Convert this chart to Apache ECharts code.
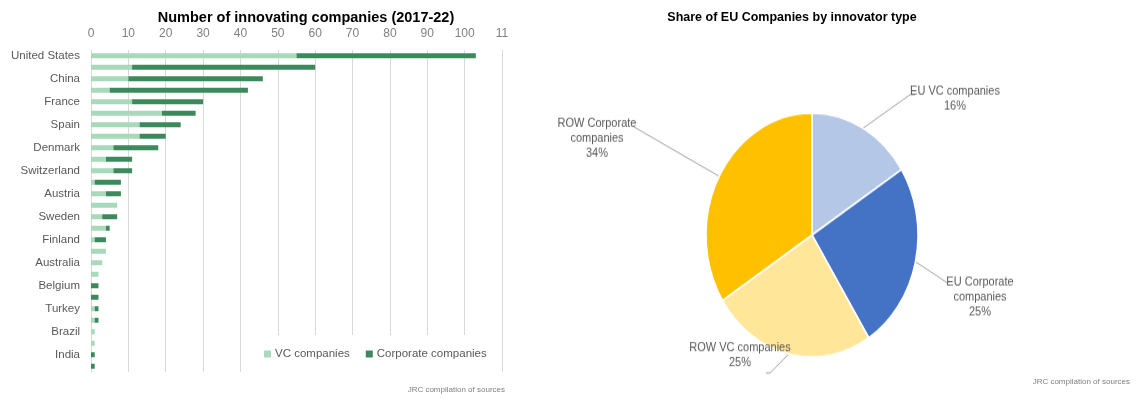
<!DOCTYPE html>
<html>
<head>
<meta charset="utf-8">
<script src="https://cdn.jsdelivr.net/npm/echarts@6/dist/echarts.min.js"></script>
<style>
  html, body { margin: 0; padding: 0; background: #fff; }
  #wrap { position: relative; width: 1137px; height: 398px; overflow: hidden; }
  #bars { position: absolute; left: 0; top: 0; width: 1137px; height: 398px; }
  /* the pie is drawn as a slightly tall ellipse */
  #pie { position: absolute; left: 540px; top: 0; width: 597px; height: 398px;
         transform-origin: 272px 235px; transform: scaleY(1.15); }
</style>
</head>
<body>
<div id="wrap">
  <div id="bars"></div>
  <div id="pie"></div>
</div>
<script>
// ---- Number of innovating companies (2017-22) ----
const countries = [
  'United States', 'United Kingdom', 'China', 'Germany', 'France', 'Israel', 'Spain',
  'Netherlands', 'Denmark', 'Italy', 'Switzerland', 'Japan', 'Austria', 'Canada',
  'Sweden', 'Norway', 'Finland', 'Ireland', 'Australia', 'Singapore', 'Belgium',
  'South Korea', 'Turkey', 'Portugal', 'Brazil', 'Poland', 'India', 'Estonia'
];
const vcCompanies = [
  55, 11, 10, 5, 11, 19, 13,
  13, 6, 4, 6, 1, 4, 7,
  3, 4, 1, 4, 3, 2, 0,
  0, 1, 1, 1, 1, 0, 0
];
const corporateCompanies = [
  48, 49, 36, 37, 19, 9, 11,
  7, 12, 7, 5, 7, 4, 0,
  4, 1, 3, 0, 0, 0, 2,
  2, 1, 1, 0, 0, 1, 1
];
const xTickLabels = ['0', '10', '20', '30', '40', '50', '60', '70', '80', '90', '100', '11'];

// ---- Share of EU Companies by innovator type ----
const innovatorTypes = ['EU VC companies', 'EU Corporate companies', 'ROW VC companies', 'ROW Corporate companies'];
const innovatorShares = [16, 25, 25, 34];
const innovatorColors = ['#b4c7e7', '#4472c4', '#ffe699', '#ffc000'];

const FONT = 'Liberation Sans';
const LIGHT_GREEN = '#a8d9bb';
const DARK_GREEN = '#3c8a5c';

const bars = echarts.init(document.getElementById('bars'), null, { renderer: 'canvas' });
bars.setOption({
  animation: false,
  textStyle: { fontFamily: FONT },
  title: [
    { text: 'Number of innovating companies (2017-22)', left: 301, top: 5, textAlign: 'center',
      textStyle: { fontSize: 14.5, fontWeight: 'bold', color: '#000', fontFamily: FONT } },
    { text: 'Share of EU Companies by innovator type', left: 787, top: 6, textAlign: 'center',
      textStyle: { fontSize: 12.5, fontWeight: 'bold', color: '#000', fontFamily: FONT } }
  ],
  grid: { left: 91, top: 50, width: 411, height: 322, containLabel: false },
  legend: {
    left: 254, top: 335,
    padding: [13, 10, 12, 10],
    backgroundColor: '#fff',
    icon: 'rect', itemWidth: 7, itemHeight: 7, itemGap: 16,
    textStyle: { fontSize: 11.5, color: '#595959', fontFamily: FONT, padding: [0, 0, 0, -1] },
    data: ['VC companies', 'Corporate companies']
  },
  xAxis: {
    type: 'value', position: 'top', min: 0, max: 110, interval: 10,
    axisLine: { show: false }, axisTick: { show: false },
    splitLine: { lineStyle: { color: '#d9d9d9', width: 1 } },
    axisLabel: { color: '#7f7f7f', fontSize: 12, margin: 10, fontFamily: FONT,
      formatter: (v) => xTickLabels[Math.round(v / 10)] }
  },
  yAxis: {
    type: 'category', inverse: true, data: countries,
    axisLine: { show: true, lineStyle: { color: '#d9d9d9' } },
    axisTick: { show: false },
    axisLabel: { interval: 1, color: '#595959', fontSize: 11.5, margin: 11, fontFamily: FONT }
  },
  series: [
    { name: 'VC companies', type: 'bar', stack: 'total', data: vcCompanies,
      barWidth: 5, itemStyle: { color: LIGHT_GREEN } },
    { name: 'Corporate companies', type: 'bar', stack: 'total', data: corporateCompanies,
      barWidth: 5, itemStyle: { color: DARK_GREEN } }
  ],
  graphic: [
    { type: 'text', right: 1137 - 505, top: 386,
      style: { text: 'JRC compilation of sources', fontSize: 8, fill: '#7f7f7f', fontFamily: FONT } },
    { type: 'text', right: 7, top: 378,
      style: { text: 'JRC compilation of sources', fontSize: 8, fill: '#7f7f7f', fontFamily: FONT } }
  ]
});

// label placement around the pie (in the pie's own, unstretched space)
const pieLabelSpots = [
  { x: 415, y: 116, bend: [370, 113], end: [375, 113] },
  { x: 440, y: 289, bend: [408, 277], end: [408, 277] },
  { x: 200, y: 339, bend: [230, 355], end: [226, 355] },
  { x: 57,  y: 151, bend: [92, 140],  end: [92, 140] }
];

const pie = echarts.init(document.getElementById('pie'), null, { renderer: 'canvas' });
pie.setOption({
  animation: false,
  series: [{
    type: 'pie',
    center: [272, 235],
    radius: 106,
    startAngle: 90,
    clockwise: true,
    data: innovatorTypes.map((name, i) => ({
      name, value: innovatorShares[i], itemStyle: { color: innovatorColors[i] }
    })),
    itemStyle: { borderColor: '#fff', borderWidth: 1.5 },
    label: {
      show: true,
      fontFamily: FONT, fontSize: 11, lineHeight: 13, color: '#595959',
      align: 'center',
      formatter: (p) => {
        const name = p.name.length > 16 ? p.name.replace(/ companies$/, '\ncompanies') : p.name;
        return name + '\n' + p.value + '%';
      }
    },
    labelLine: { show: true, length: 20, length2: 5, lineStyle: { color: '#a6a6a6', width: 1 } },
    labelLayout: (params) => {
      const s = pieLabelSpots[params.dataIndex];
      const start = params.labelLinePoints ? params.labelLinePoints[0] : s.bend;
      return {
        x: s.x, y: s.y, align: 'center', verticalAlign: 'middle',
        labelLinePoints: [start, s.bend, s.end]
      };
    }
  }]
});
</script>
</body>
</html>
